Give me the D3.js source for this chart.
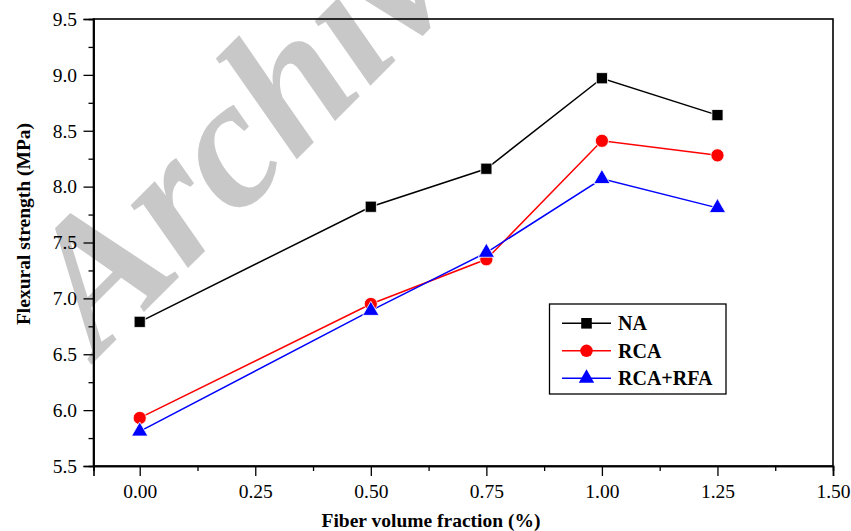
<!DOCTYPE html>
<html><head><meta charset="utf-8">
<script src="https://cdn.jsdelivr.net/npm/d3@7"></script>
<style>body{margin:0;background:#fff}svg{display:block}svg text{font-family:"Liberation Serif","Times New Roman",Times,serif !important}</style>
</head><body><svg id="c" width="851" height="531"></svg>
<script>
const fiberFractions = [0, 0.5, 0.75, 1.0, 1.25];
const naValues = [6.79, 7.82, 8.16, 8.97, 8.64];
const rcaValues = [5.93, 6.95, 7.35, 8.41, 8.28];
const rcaRfaValues = [5.81, 6.89, 7.41, 8.07, 7.81];
const seriesNames = ["NA", "RCA", "RCA+RFA"];
const xTickValues = [0, 0.25, 0.5, 0.75, 1.0, 1.25, 1.5];
const yTickValues = [5.5, 6.0, 6.5, 7.0, 7.5, 8.0, 8.5, 9.0, 9.5];

const svg = d3.select("#c");
const L = 93.5, R = 833, T = 19, B = 466;
const x = d3.scaleLinear().domain([-0.1, 1.5]).range([L, R]);
const y = d3.scaleLinear().domain([5.5, 9.5]).range([B, T]);

// watermark
svg.append("text").text("Archive")
  .attr("transform", "translate(98,358) rotate(-45)")
  .attr("font-size", 185).attr("font-style", "italic").attr("font-weight", "bold")
  .attr("fill", "#c8c8c8");

// frame
svg.append("rect").attr("x", L).attr("y", T).attr("width", R - L).attr("height", B - T)
  .attr("fill", "none").attr("stroke", "#000").attr("stroke-width", 1.6);

// axes
const xMinor = d3.range(-0.125, 1.51, 0.25).filter(v => v > -0.1);
const yMinor = d3.range(5.75, 9.5, 0.5);
svg.append("g").attr("transform", `translate(0,${B})`)
  .call(d3.axisBottom(x).tickValues(xTickValues).tickFormat(d3.format(".2f")).tickSize(10).tickPadding(8));
svg.append("g").attr("transform", `translate(0,${B})`)
  .call(d3.axisBottom(x).tickValues(xMinor).tickFormat("").tickSize(5));
svg.append("g").attr("transform", `translate(${L},0)`)
  .call(d3.axisLeft(y).tickValues(yTickValues).tickFormat(d3.format(".1f")).tickSize(10).tickPadding(6.5));
svg.append("g").attr("transform", `translate(${L},0)`)
  .call(d3.axisLeft(y).tickValues(yMinor).tickFormat("").tickSize(5));
svg.selectAll(".domain").attr("stroke", "#000").attr("stroke-width", 1.6);
svg.selectAll(".tick line").attr("stroke", "#000").attr("stroke-width", 1.3);
svg.selectAll(".tick text").attr("font-size", 19.5).attr("fill", "#000");

// axis titles
svg.append("text").text("Fiber volume fraction (%)")
  .attr("x", 431).attr("y", 527).attr("text-anchor", "middle")
  .attr("font-size", 19.5).attr("font-weight", "bold");
svg.append("text").text("Flexural strength (MPa)")
  .attr("transform", "translate(29.5,224) rotate(-90)").attr("text-anchor", "middle")
  .attr("font-size", 19.5).attr("font-weight", "bold");

const series = [
  {name: seriesNames[0], values: naValues, color: "#000000", sym: d3.symbolSquare, size: 125},
  {name: seriesNames[1], values: rcaValues, color: "#ff0000", sym: d3.symbolCircle, size: 135},
  {name: seriesNames[2], values: rcaRfaValues, color: "#0000ff", sym: d3.symbolTriangle, size: 115}
];
const line = d3.line().x((d, i) => x(fiberFractions[i])).y(d => y(d));
series.forEach(s => {
  svg.append("path").datum(s.values).attr("d", line)
    .attr("fill", "none").attr("stroke", s.color).attr("stroke-width", 1.5);
});
series.forEach(s => {
  svg.selectAll(null).data(s.values).enter().append("path")
    .attr("d", d3.symbol().type(s.sym).size(s.size))
    .attr("transform", (d, i) => `translate(${x(fiberFractions[i])},${y(d)})`)
    .attr("fill", s.color).attr("stroke", "#fff").attr("stroke-width", 0.8);
});

// legend
const lg = svg.append("g");
lg.append("rect").attr("x", 549.5).attr("y", 304).attr("width", 176.5).attr("height", 90)
  .attr("fill", "#fff").attr("stroke", "#000").attr("stroke-width", 1.3);
series.forEach((s, i) => {
  const yy = 323.3 + i * 27.5;
  lg.append("line").attr("x1", 562).attr("x2", 611).attr("y1", yy).attr("y2", yy)
    .attr("stroke", s.color).attr("stroke-width", 1.5);
  lg.append("path").attr("d", d3.symbol().type(s.sym).size(s.size * 0.9))
    .attr("transform", `translate(586.5,${yy})`).attr("fill", s.color);
  lg.append("text").text(s.name).attr("x", 618).attr("y", yy + 7)
    .attr("font-size", 20).attr("font-weight", "bold");
});
</script></body></html>
